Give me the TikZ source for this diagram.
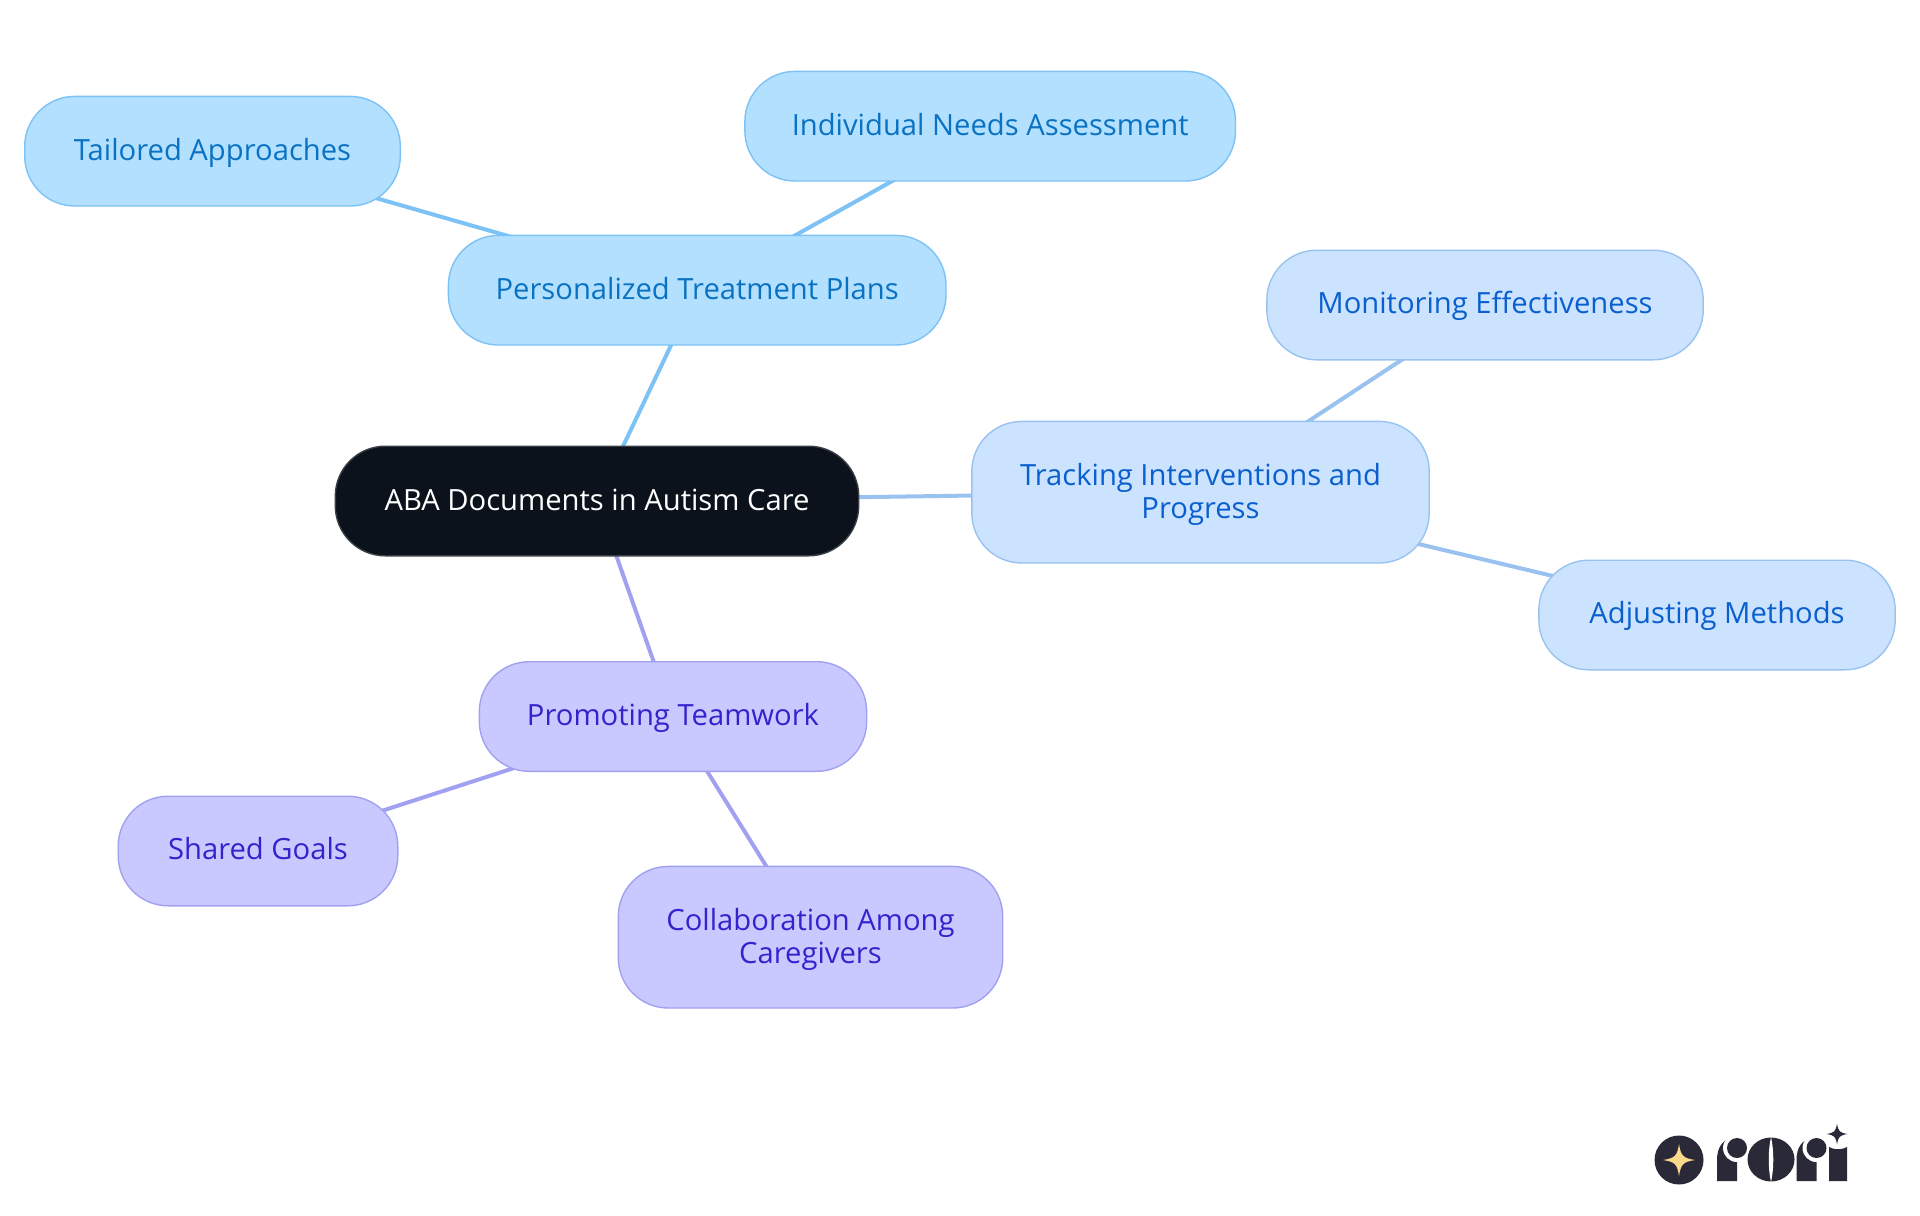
\documentclass[tikz,border=0pt]{standalone}
\usepackage{fontspec}
\setmainfont{Open Sans}
\usetikzlibrary{backgrounds}
\definecolor{rootfill}{HTML}{0B121B}
\definecolor{rootline}{HTML}{3A3F46}
\definecolor{bluefill}{HTML}{B3E0FF}
\definecolor{blueline}{HTML}{7CC2F5}
\definecolor{bluetext}{HTML}{0A72C2}
\definecolor{skyfill}{HTML}{CCE3FF}
\definecolor{skyline}{HTML}{99C2F0}
\definecolor{skytext}{HTML}{0A5FCF}
\definecolor{purpfill}{HTML}{C9C9FF}
\definecolor{purpline}{HTML}{A1A1F2}
\definecolor{purptext}{HTML}{3323CC}
\definecolor{logodark}{HTML}{2A2937}
\definecolor{logogold}{HTML}{FBD98A}
\tikzset{
  x=0.5pt,y=-0.5pt,
  boxbase/.style={rounded corners=25pt,line width=0.7pt,align=center,inner sep=0pt,
    font=\fontsize{14.6}{16.4}\selectfont},
  oneline/.style={text height=13pt,text depth=4pt},
  onelinehigh/.style={text height=12.5pt,text depth=4.5pt},
  rootbox/.style={boxbase,draw=rootline,fill=rootfill,text=white},
  bluebox/.style={boxbase,draw=blueline,fill=bluefill,text=bluetext},
  skybox/.style={boxbase,draw=skyline,fill=skyfill,text=skytext},
  purpbox/.style={boxbase,draw=purpline,fill=purpfill,text=purptext},
  bluelink/.style={draw=blueline,line width=2pt},
  skylink/.style={draw=skyline,line width=2pt},
  purplink/.style={draw=purpline,line width=2pt},
}
\newcommand{\fourstar}[3]{% x y r
  \fill (#1-#3,#2) .. controls (#1-0.25*#3,#2-0.12*#3) and (#1-0.12*#3,#2-0.25*#3) .. (#1,#2-#3)
    .. controls (#1+0.12*#3,#2-0.25*#3) and (#1+0.25*#3,#2-0.12*#3) .. (#1+#3,#2)
    .. controls (#1+0.25*#3,#2+0.12*#3) and (#1+0.12*#3,#2+0.25*#3) .. (#1,#2+#3)
    .. controls (#1-0.12*#3,#2+0.25*#3) and (#1-0.25*#3,#2+0.12*#3) .. (#1-#3,#2) -- cycle;}
\newcommand{\logor}[1]{% x offset
  \fill[logodark] (#1+1717,1181) -- (#1+1717,1160) .. controls (#1+1717,1148) and (#1+1722,1140) .. (#1+1732,1138)
     -- (#1+1737,1138) -- (#1+1737,1181) -- cycle;
  \fill[white] (#1+1737,1148) circle[radius=14];
  \fill[logodark] (#1+1737,1148) circle[radius=10];}
\begin{document}
\begin{tikzpicture}
\useasboundingbox (0,0) rectangle (1920,1215);
\node[rootbox,oneline,minimum width=261.7pt,minimum height=54.8pt] (root) at (597,501) {ABA Documents in Autism Care};
\node[bluebox,oneline,minimum width=248.8pt,minimum height=54.8pt] (plans) at (697.2,290.2) {Personalized Treatment Plans};
\node[bluebox,oneline,minimum width=245.3pt,minimum height=54.8pt] (needs) at (990.2,126.2) {Individual Needs Assessment};
\node[bluebox,oneline,minimum width=187.8pt,minimum height=54.8pt] (tailored) at (212.5,151.2) {Tailored Approaches};
\node[skybox,minimum width=228.7pt,minimum height=70.8pt] (track) at (1200.5,492.2) {\rule{0pt}{13pt}Tracking Interventions and\\Progress};
\node[skybox,onelinehigh,minimum width=218.2pt,minimum height=54.8pt] (monitor) at (1485,305) {Monitoring Effectiveness};
\node[skybox,onelinehigh,minimum width=178.2pt,minimum height=54.8pt] (adjust) at (1717,615) {Adjusting Methods};
\node[purpbox,oneline,minimum width=193.7pt,minimum height=54.8pt] (team) at (673,716.5) {Promoting Teamwork};
\node[purpbox,onelinehigh,minimum width=139.8pt,minimum height=54.8pt] (goals) at (258,851) {Shared Goals};
\node[purpbox,minimum width=192.2pt,minimum height=70.8pt] (collab) at (810.5,937.2) {\rule{0pt}{13pt}Collaboration Among\\Caregivers};
\begin{scope}[on background layer]
\path[bluelink] (root.center) -- (plans.center);
\path[bluelink] (plans.center) -- (needs.center);
\path[bluelink] (plans.center) -- (tailored.center);
\path[skylink] (root.center) -- (track.center);
\path[skylink] (track.center) -- (monitor.center);
\path[skylink] (track.center) -- (adjust.center);
\path[purplink] (root.center) -- (team.center);
\path[purplink] (team.center) -- (goals.center);
\path[purplink] (team.center) -- (collab.center);
\end{scope}
% logo
\fill[logodark] (1679,1160) circle[radius=24.5];
\begin{scope}[logogold]\fourstar{1679}{1160}{16}\end{scope}
\logor{0}
\fill[logodark] (1771,1159.5) ellipse[x radius=23.5,y radius=22];
\fill[white] (1771,1137) .. controls (1768,1150) and (1768,1169) .. (1771,1182)
   .. controls (1774,1169) and (1774,1150) .. (1771,1137) -- cycle;
\logor{79.5}
\fill[logodark] (1829,1181) -- (1829,1147) .. controls (1834,1150) and (1842,1150) .. (1847,1147) -- (1847,1181) -- cycle;
\begin{scope}[logodark]\fourstar{1837}{1134}{10.5}\end{scope}
\end{tikzpicture}
\end{document}
